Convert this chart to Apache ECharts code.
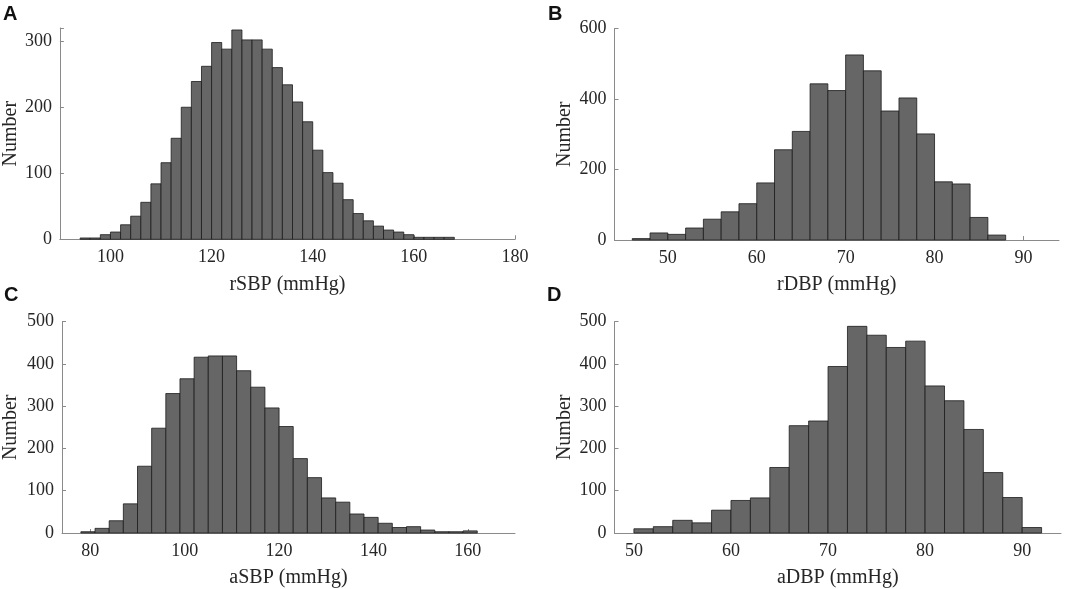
<!DOCTYPE html>
<html>
<head>
<meta charset="utf-8">
<script src="https://cdn.jsdelivr.net/npm/echarts@6/dist/echarts.min.js"></script>
<style>
html,body{margin:0;padding:0;background:#fff;}
#main{width:1072px;height:589px;}
</style>
</head>
<body>
<div id="main"></div>
<script>
// ---- Data ----
const panelLetters = ['A', 'B', 'C', 'D'];
const axisNames = ['rSBP (mmHg)', 'rDBP (mmHg)', 'aSBP (mmHg)', 'aDBP (mmHg)'];
const yAxisName = 'Number';

// bin start and width per panel
const binStartA = 94, binWidthA = 2;
const countsA = [2, 2, 7, 11, 22, 35, 56, 84, 116, 153, 200, 239, 262, 298, 288, 317, 302, 302, 288, 260, 234, 208, 178, 135, 101, 85, 60, 39, 28, 20, 14, 11, 7, 3, 3, 3, 3];

const binStartB = 46, binWidthB = 2;
const countsB = [4, 20, 16, 34, 59, 80, 103, 162, 256, 308, 443, 424, 525, 480, 366, 403, 301, 165, 159, 64, 14];

const binStartC = 78, binWidthC = 3;
const countsC = [3, 11, 29, 69, 158, 248, 330, 365, 416, 419, 419, 384, 345, 296, 252, 176, 131, 83, 73, 45, 37, 23, 13, 15, 7, 3, 3, 5];

const binStartD = 50, binWidthD = 2;
const countsD = [10, 15, 30, 24, 54, 77, 83, 155, 254, 265, 394, 489, 468, 439, 454, 348, 313, 245, 143, 84, 13];

// axis ranges / tick steps
const xRanges = [[90, 180, 20], [44, 94, 10], [74, 170, 20], [48, 94, 10]];
const yRanges = [[0, 320, 100], [0, 600, 200], [0, 500, 100], [0, 500, 100]];

// ---- Build ----
function bins(start, width, counts) {
  return counts.map((c, i) => [start + i * width, start + (i + 1) * width, c]);
}
const panels = [
  bins(binStartA, binWidthA, countsA),
  bins(binStartB, binWidthB, countsB),
  bins(binStartC, binWidthC, countsC),
  bins(binStartD, binWidthD, countsD)
];

const grids = [
  {left: 58.5, right: 557, top: 28, bottom: 349.7},
  {left: 614.5, right: 13, top: 28.5, bottom: 349},
  {left: 60.5, right: 557, top: 321.7, bottom: 55.7},
  {left: 614.5, right: 11, top: 321.7, bottom: 56}
];
const yNameGaps = [36, 40, 41, 40];
const letterPos = [[3, 4], [548, 4], [4, 285], [547, 285]];

const serif = 'Liberation Serif, Times New Roman, serif';
const axisGray = '#8a8a8a';
const textColor = '#262626';

const option = {
  backgroundColor: '#fff',
  animation: false,
  title: panelLetters.map((t, i) => ({
    text: t, left: letterPos[i][0], top: letterPos[i][1], padding: 0,
    textStyle: {fontFamily: 'Liberation Sans, Arial, sans-serif', fontWeight: 'bold', fontSize: 20, color: '#111'}
  })),
  grid: grids,
  xAxis: xRanges.map((r, i) => ({
    type: 'value', gridIndex: i, min: r[0], max: r[1], minInterval: r[2], maxInterval: r[2],
    name: axisNames[i], nameLocation: 'middle', nameGap: 35,
    nameTextStyle: {fontFamily: serif, fontSize: 20, color: textColor},
    axisLine: {show: true, lineStyle: {color: axisGray, width: 1}},
    axisTick: {show: true, inside: true, length: 4, lineStyle: {color: axisGray}},
    axisLabel: {fontFamily: serif, fontSize: 18, color: textColor, margin: 9, showMinLabel: false, showMaxLabel: i === 0,
      formatter: v => (v % r[2] === 0 ? String(v) : '')},
    splitLine: {show: false}
  })),
  yAxis: yRanges.map((r, i) => ({
    type: 'value', gridIndex: i, min: r[0], max: r[1], interval: r[2],
    name: yAxisName, nameLocation: 'middle', nameGap: yNameGaps[i],
    nameTextStyle: {fontFamily: serif, fontSize: 20, color: textColor},
    axisLine: {show: true, lineStyle: {color: axisGray, width: 1}},
    axisTick: {show: true, inside: true, length: 4, lineStyle: {color: axisGray}},
    axisLabel: {fontFamily: serif, fontSize: 18, color: textColor, margin: 8,
      formatter: v => (v % r[2] === 0 ? String(v) : '')},
    splitLine: {show: false}
  })),
  series: panels.map((data, i) => ({
    type: 'custom', xAxisIndex: i, yAxisIndex: i,
    encode: {x: [0, 1], y: 2},
    data: data,
    renderItem: function (params, api) {
      const p0 = api.coord([api.value(0), 0]);
      const p1 = api.coord([api.value(1), api.value(2)]);
      return {
        type: 'rect',
        shape: {x: p0[0], y: p1[1], width: p1[0] - p0[0], height: p0[1] - p1[1]},
        style: {fill: '#666666', stroke: '#1c1c1c', lineWidth: 0.8}
      };
    }
  }))
};

const chart = echarts.init(document.getElementById('main'), null, {renderer: 'canvas'});
chart.setOption(option);
</script>
</body>
</html>
